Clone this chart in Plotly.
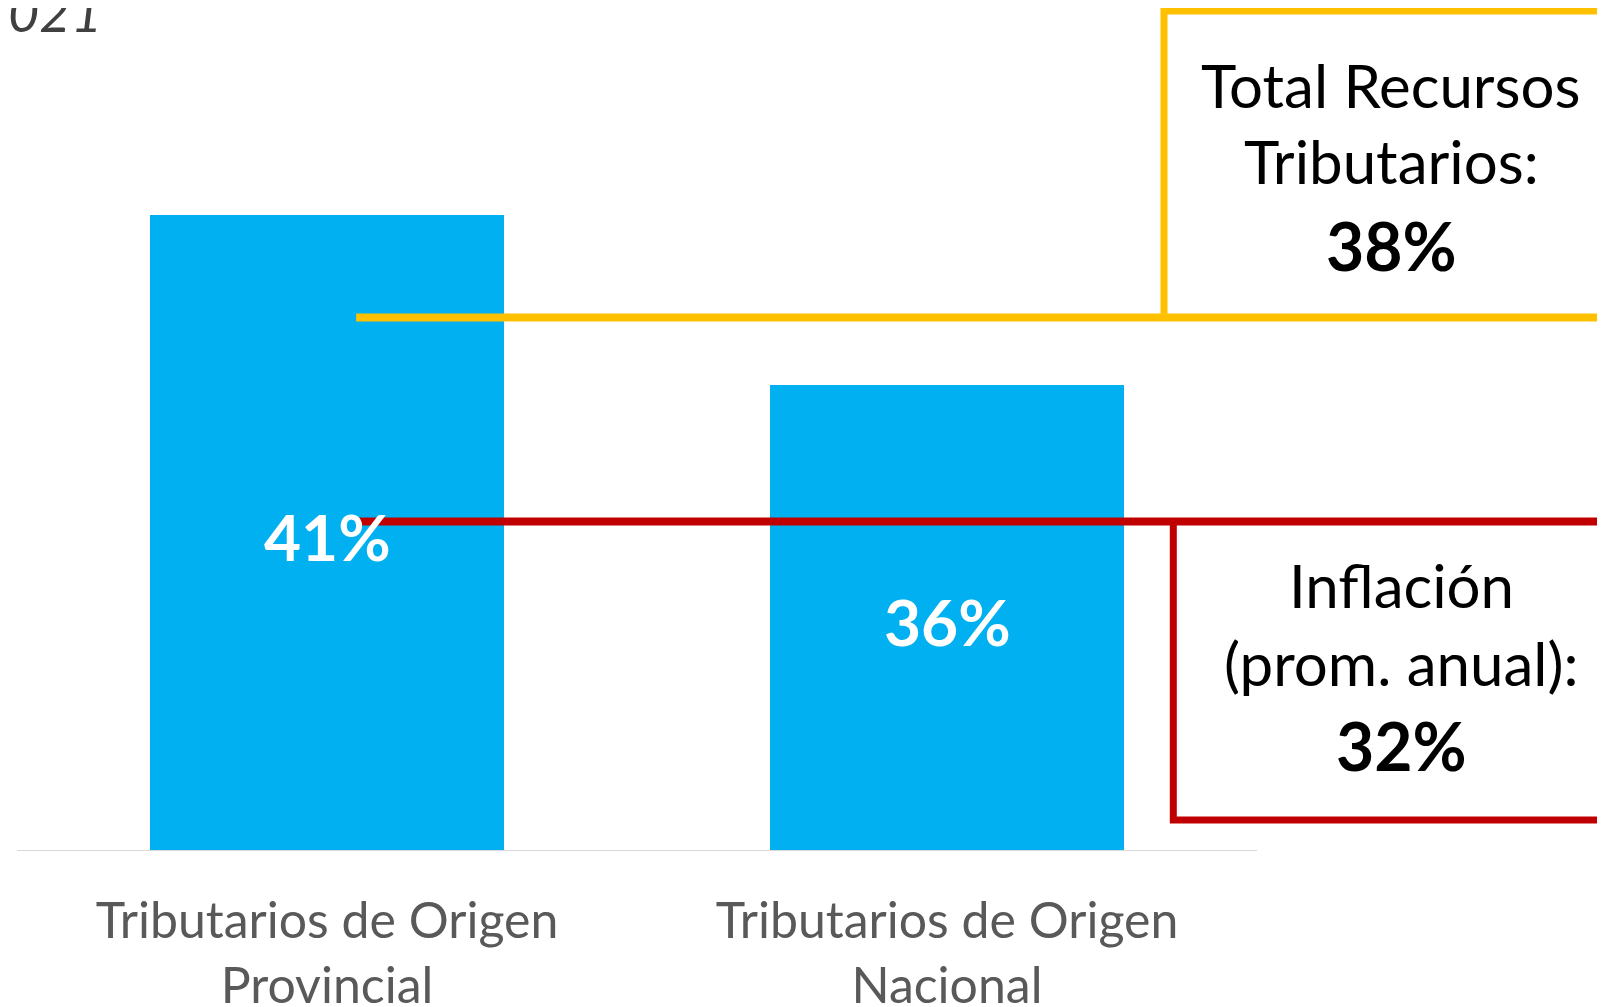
import plotly.graph_objects as go

# ---- data ----
categories = ["Tributarios de Origen<br>Provincial", "Tributarios de Origen<br>Nacional"]
growth = [41, 36]
bar_labels = ["41%", "36%"]
total_tributarios = 38
inflacion = 32
total_lines = ["Total Recursos", "Tributarios:"]
inflacion_lines = ["Inflación", "(prom. anual):"]
title_fragment = "021"

# ---- style ----
BLUE = "#00B0F0"
YELLOW = "#FFC000"
RED = "#C00000"
FONT = "Lato"
OFF = 8                   # body margin of the page
W, H = 1605 - OFF, 1007 - OFF
ML, MB = 17 - OFF, 156
PLOT_H = H - MB
PLOT_W = W - ML
Y_MIN, Y_MAX = 22.31, 47.10
X_MIN, X_MAX = -0.5, 2.0613


def px(page_x):
    return (page_x - OFF - ML) / PLOT_W


def py(page_y):
    return 1 - (page_y - OFF) / PLOT_H


fig = go.Figure()
fig.add_trace(go.Bar(
    x=[0, 1], y=growth, width=0.571,
    marker=dict(color=BLUE, line=dict(width=0)),
    textposition="none",
    hoverinfo="skip",
))

# value labels, centred on the visible part of each bar
for i, (v, lab) in enumerate(zip(growth, bar_labels)):
    fig.add_annotation(xref="x", yref="y", x=i, y=(v + Y_MIN) / 2 - 0.1, text=f"<b>{lab}</b>",
                       showarrow=False, xanchor="center", yanchor="middle",
                       font=dict(family=FONT, size=64, color="white"))

# axis baseline (only under the category band)
fig.add_shape(type="line", xref="x", yref="y", x0=-0.5, x1=1.5, y0=Y_MIN, y1=Y_MIN,
              line=dict(color="#D9D9D9", width=2))

# reference lines
fig.add_shape(type="line", xref="x", yref="y", x0=0.047, x1=X_MAX + 0.1,
              y0=total_tributarios, y1=total_tributarios, line=dict(color=YELLOW, width=8))
fig.add_shape(type="line", xref="x", yref="y", x0=0.047, x1=X_MAX + 0.1,
              y0=inflacion, y1=inflacion, line=dict(color=RED, width=8))

# boxes
fig.add_shape(type="rect", xref="x", yref="y", x0=1.35, x1=X_MAX + 0.2,
              y0=total_tributarios, y1=47.01, line=dict(color=YELLOW, width=7),
              fillcolor="rgba(0,0,0,0)")
fig.add_shape(type="rect", xref="x", yref="y", x0=1.365, x1=X_MAX + 0.2,
              y0=23.22, y1=inflacion, line=dict(color=RED, width=7),
              fillcolor="rgba(0,0,0,0)")

# box texts, one line each
box_texts = [
    (total_lines[0], 1391, 85, 60, False),
    (total_lines[1], 1391, 161, 60, False),
    (f"{total_tributarios}%", 1391, 246, 66, True),
    (inflacion_lines[0], 1401, 585, 60, False),
    (inflacion_lines[1], 1401, 663, 60, False),
    (f"{inflacion}%", 1401, 745, 66, True),
]
for txt, x, y, size, bold in box_texts:
    fig.add_annotation(xref="paper", yref="paper", x=px(x), y=py(y),
                       text=f"<b>{txt}</b>" if bold else txt,
                       showarrow=False, xanchor="center", yanchor="middle",
                       font=dict(family=FONT, size=size, color="black"))

# cut-off title fragment
fig.add_annotation(xref="paper", yref="paper", x=px(OFF - 2), y=py(OFF + 3.5),
                   text=f"<i>{title_fragment}</i>", showarrow=False,
                   xanchor="left", yanchor="middle",
                   font=dict(family=FONT, size=54, color="#404040"))

fig.update_layout(
    width=W, height=H,
    margin=dict(l=ML, r=0, t=0, b=MB, pad=0, autoexpand=False),
    paper_bgcolor="white", plot_bgcolor="white",
    showlegend=False, bargap=0,
    xaxis=dict(range=[X_MIN, X_MAX], tickmode="array", tickvals=[0, 1], ticktext=categories,
               showline=False, showgrid=False, zeroline=False, ticks="",
               automargin=False, ticklabelstandoff=36,
               tickfont=dict(family=FONT, size=50, color="#595959")),
    yaxis=dict(range=[Y_MIN, Y_MAX], visible=False, showgrid=False, zeroline=False,
               automargin=False),
)

fig.write_html("out.html")
